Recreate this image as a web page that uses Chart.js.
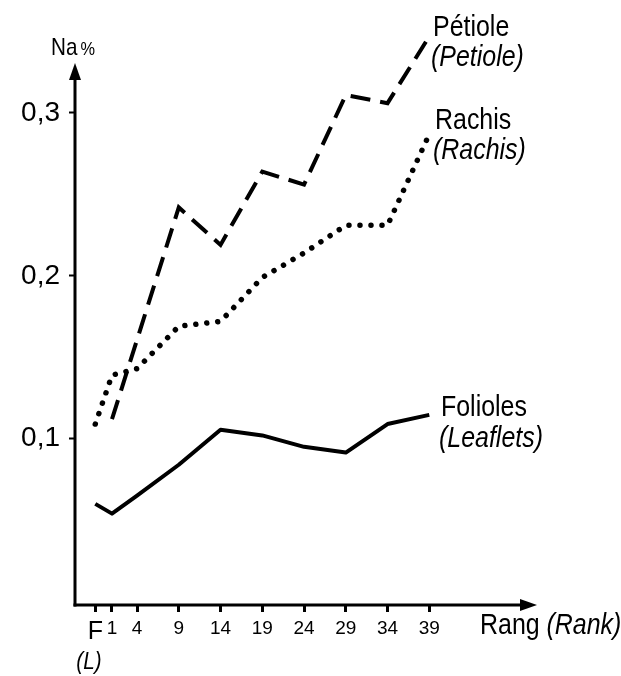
<!DOCTYPE html>
<html>
<head>
<meta charset="utf-8">
<script src="https://cdn.jsdelivr.net/npm/chart.js@4.4.1/dist/chart.umd.min.js"></script>
<style>
  html, body { margin: 0; padding: 0; background: #fff; }
  canvas { display: block; }
</style>
</head>
<body>
<canvas id="c" width="621" height="676"></canvas>
<script>
// ---- data ----
const ranks      = [-1, 1, 4, 9, 14, 19, 24, 29, 34, 39];   // -1 stands for "F"
const rankLabels = ['F', '1', '4', '9', '14', '19', '24', '29', '34', '39'];
const petiole    = [null, 0.112, null, 0.242, 0.219, 0.264, 0.256, 0.311, 0.306, 0.347];
const rachis     = [0.109, 0.139, 0.143, 0.169, 0.172, 0.199, 0.214, 0.231, 0.231, 0.287];
const folioles   = [0.060, 0.054, 0.065, 0.084, 0.1055, 0.102, 0.095, 0.0915, 0.109, 0.1146];
const yTickValues = [0.1, 0.2, 0.3];

const FONT = '"Liberation Sans", "DejaVu Sans", sans-serif';

function pts(vals) {
  return ranks.map((r, i) => ({ x: r, y: vals[i] })).filter(p => p.y !== null);
}

// draw text horizontally condensed (the original uses a narrow typeface)
function narrowText(ctx, txt, x, y, font, sx) {
  ctx.save();
  ctx.font = font;
  ctx.translate(x, y);
  ctx.scale(sx, 1);
  ctx.fillText(txt, 0, 0);
  const w = ctx.measureText(txt).width * sx;
  ctx.restore();
  return w;
}

const annot = {
  id: 'annot',
  afterDraw(chart) {
    const { ctx, chartArea: a, scales: { x, y } } = chart;
    ctx.save();
    ctx.strokeStyle = '#000';
    ctx.fillStyle = '#000';
    ctx.lineWidth = 3;
    ctx.lineCap = 'butt';
    // y axis with arrow
    const yTip = 63;
    ctx.beginPath();
    ctx.moveTo(a.left, a.bottom + 1.5);
    ctx.lineTo(a.left, yTip + 12);
    ctx.stroke();
    ctx.beginPath();
    ctx.moveTo(a.left, yTip);
    ctx.lineTo(a.left - 6, yTip + 17);
    ctx.lineTo(a.left + 6, yTip + 17);
    ctx.closePath();
    ctx.fill();
    // x axis with arrow
    const xTip = a.right;
    ctx.beginPath();
    ctx.moveTo(a.left - 1.5, a.bottom);
    ctx.lineTo(xTip - 12, a.bottom);
    ctx.stroke();
    ctx.beginPath();
    ctx.moveTo(xTip, a.bottom);
    ctx.lineTo(xTip - 17, a.bottom - 6);
    ctx.lineTo(xTip - 17, a.bottom + 6);
    ctx.closePath();
    ctx.fill();

    ctx.textBaseline = 'alphabetic';
    ctx.textAlign = 'left';
    const SX = 0.86;
    // axis titles
    const wNa = narrowText(ctx, 'Na', 51, 55, '24px ' + FONT, SX);
    narrowText(ctx, '%', 51 + wNa + 3, 55, '19px ' + FONT, SX);

    const wR = narrowText(ctx, 'Rang ', 480, 634, '29px ' + FONT, SX);
    narrowText(ctx, '(Rank)', 480 + wR, 634, 'italic 29px ' + FONT, SX);

    // (L) under F
    narrowText(ctx, '(L)', x.getPixelForValue(ranks[0]) - 19, 669, 'italic 24px ' + FONT, SX);

    // series labels
    narrowText(ctx, 'Pétiole', 433, 36, '29px ' + FONT, SX);
    narrowText(ctx, 'Rachis', 435, 129, '29px ' + FONT, SX);
    narrowText(ctx, 'Folioles', 441, 416, '29px ' + FONT, SX);
    narrowText(ctx, '(Petiole)', 431, 66, 'italic 29px ' + FONT, SX);
    narrowText(ctx, '(Rachis)', 433, 159, 'italic 29px ' + FONT, SX);
    narrowText(ctx, '(Leaflets)', 439, 447, 'italic 29px ' + FONT, SX);
    ctx.restore();
  }
};

new Chart(document.getElementById('c'), {
  type: 'line',
  data: {
    datasets: [
      {
        label: 'Pétiole', data: pts(petiole),
        borderColor: '#000', borderWidth: 4, borderDash: [20, 10],
        borderCapStyle: 'butt', pointRadius: 0, tension: 0, fill: false
      },
      {
        label: 'Rachis', data: pts(rachis),
        borderColor: '#000', borderWidth: 5.5, borderDash: [0.01, 11],
        borderCapStyle: 'round', pointRadius: 0, tension: 0, fill: false
      },
      {
        label: 'Folioles', data: pts(folioles),
        borderColor: '#000', borderWidth: 4, borderJoinStyle: 'round',
        pointRadius: 0, tension: 0, fill: false
      }
    ]
  },
  options: {
    responsive: false,
    animation: false,
    devicePixelRatio: 1,
    layout: { padding: { top: 20, right: 84, left: 0, bottom: 0 } },
    plugins: { legend: { display: false }, tooltip: { enabled: false } },
    scales: {
      x: {
        type: 'linear',
        min: -3.43, max: 51.9,
        afterFit(s) { s.height = 71; },
        afterBuildTicks(s) { s.ticks = ranks.map(v => ({ value: v })); },
        grid: { drawOnChartArea: false, drawTicks: true, tickLength: 7, tickWidth: 3, tickColor: '#000' },
        border: { display: false },
        ticks: {
          autoSkip: false, maxRotation: 0, color: '#000', padding: 5,
          font: ctx => (ctx.tick && ctx.tick.value === ranks[0]) ? { family: FONT, size: 25 } : { family: FONT, size: 19 },
          callback: v => { const i = ranks.indexOf(v); return i >= 0 ? rankLabels[i] : ''; }
        }
      },
      y: {
        type: 'linear',
        min: -0.0021, max: 0.3535,
        afterFit(s) { s.width = 75; },
        afterBuildTicks(s) { s.ticks = yTickValues.map(v => ({ value: v })); },
        grid: { drawOnChartArea: false, drawTicks: true, tickLength: 6, tickWidth: 2, tickColor: '#000' },
        border: { display: false },
        ticks: {
          color: '#000', padding: 9,
          font: { family: FONT, size: 28 },
          callback: v => v.toFixed(1).replace('.', ',')
        }
      }
    }
  },
  plugins: [annot]
});
</script>
</body>
</html>
